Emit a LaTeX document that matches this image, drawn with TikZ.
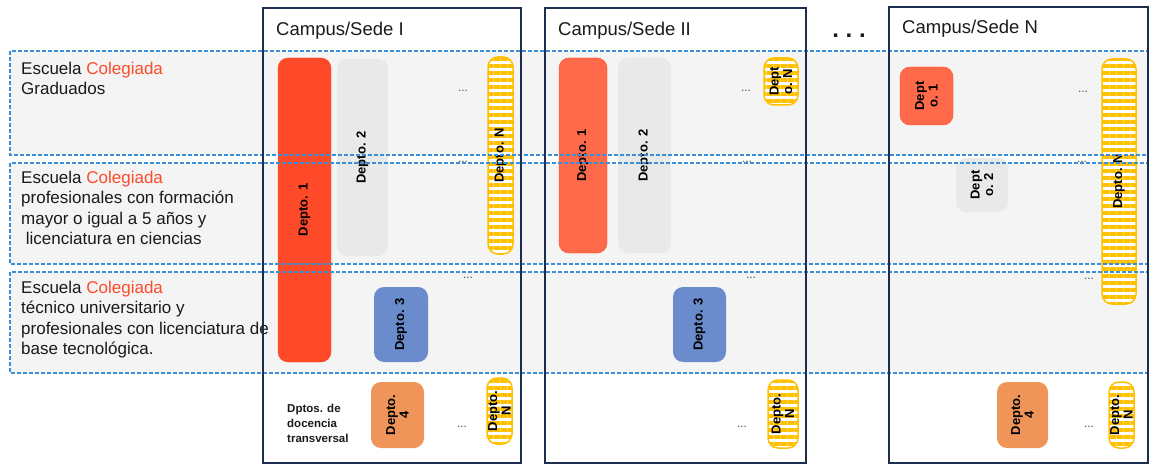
\documentclass[tikz,border=0pt]{standalone}
\usepackage{fontspec}
\setmainfont{Liberation Sans}
\usetikzlibrary{patterns.meta}
\definecolor{marino}{HTML}{1C2D4F}
\definecolor{azulraya}{HTML}{3A8FD6}
\definecolor{fondo}{HTML}{F4F4F4}
\definecolor{rojo}{HTML}{FF4A2A}
\definecolor{rojoclaro}{HTML}{FF6A4A}
\definecolor{gris}{HTML}{E9E9E9}
\definecolor{azul}{HTML}{6A8BCC}
\definecolor{naranja}{HTML}{F0955A}
\definecolor{amarillo}{HTML}{FFC000}
\definecolor{tinta}{HTML}{1A1A1A}
\tikzset{
	franja/.style={draw=azulraya,line width=1.3pt,dash pattern=on 4pt off 2pt},
	campus/.style={draw=marino,line width=2.5pt},
	titulo/.style={anchor=base west,inner sep=0pt,text=tinta,font=\fontsize{18.5}{20}\selectfont},
	etiqueta/.style={anchor=north west,align=left,inner sep=0pt,text=tinta,font=\fontsize{17}{20.5}\selectfont},
	depto/.style={rotate=90,rounded corners=10pt,inner sep=0pt,align=center,text=black,font=\fontsize{13}{13.5}\selectfont\bfseries},
	roja/.style={depto,fill=rojo,draw=rojo!90!red},
	rojac/.style={depto,fill=rojoclaro,draw=rojo!90!red},
	grisd/.style={depto,fill=gris},
	azuld/.style={depto,fill=azul},
	naranjad/.style={depto,fill=naranja},
	rayada/.style={depto,draw=amarillo,line width=1.5pt,preaction={fill=white},pattern={Lines[angle=0,distance=7pt,line width=3.5pt]},pattern color=amarillo},
	puntos/.style={anchor=base,inner sep=0pt,text=gray!60!black,font=\fontsize{12}{12}\selectfont}
}
\begin{document}
\begin{tikzpicture}[x=1pt,y=-1pt]
	\useasboundingbox (0,0) rectangle (1150,465);
	\fill[fondo] (10,51) rectangle (1148,155);
	\fill[fondo] (10,163) rectangle (1148,264);
	\fill[fondo] (10,272) rectangle (1148,373);

	\node[etiqueta] (esc1) at (21,61.5) {Escuela \textcolor{rojo}{Colegiada}\\Graduados};
	\node[etiqueta] (esc2) at (21,170.5) {Escuela \textcolor{rojo}{Colegiada}\\profesionales con formación\\mayor o igual a 5 años y\\~licenciatura en ciencias};
	\node[etiqueta] (esc3) at (21,280.5) {Escuela \textcolor{rojo}{Colegiada}\\técnico universitario y\\profesionales con licenciatura de\\base tecnológica.};

	\node[roja,minimum width=304,minimum height=53] (d11) at (304.5,210) {Depto. 1};
	\node[grisd,minimum width=197,minimum height=51] (d12) at (362.5,157.5) {Depto. 2};
	\node[rayada,minimum width=197,minimum height=25] (d1n) at (500.5,155.5) {Depto. N};
	\node[azuld,minimum width=75,minimum height=54] (d13) at (401,324.5) {Depto. 3};
	\node[naranjad,minimum width=66,minimum height=53] (d14) at (397.5,415) {Depto.\\4};
	\node[rayada,minimum width=66,minimum height=25] (d1nb) at (499.5,411) {Depto.\\N};
	\node[anchor=north west,align=left,inner sep=0pt,text=tinta,font=\fontsize{11.5}{15}\selectfont\bfseries] (transv) at (287,404) {Dptos. de\\docencia\\transversal};

	\node[rojac,minimum width=195,minimum height=48] (d21) at (583,155.5) {Depto. 1};
	\node[grisd,minimum width=195,minimum height=53] (d22) at (644.5,155.5) {Depto. 2};
	\node[rayada,minimum width=47,minimum height=34] (d2n) at (781,81.5) {Dept\\o. N};
	\node[azuld,minimum width=75,minimum height=53] (d23) at (699.5,324.5) {Depto. 3};
	\node[rayada,minimum width=68,minimum height=30] (d2nb) at (783,414) {Depto.\\N};

	\node[rojac,minimum width=58,minimum height=53] (dn1) at (926.5,96) {Dept\\o. 1};
	\node[grisd,minimum width=54,minimum height=52] (dn2) at (982,185) {Dept\\o. 2};
	\node[rayada,minimum width=245,minimum height=34] (dnn) at (1119,181.5) {Depto. N};
	\node[naranjad,minimum width=66,minimum height=51] (dn4) at (1022.5,415) {Depto.\\4};
	\node[rayada,minimum width=66,minimum height=25] (dnnb) at (1121.5,415) {Depto.\\N};

	\node[puntos] (p11) at (463,92) {...};
	\node[puntos] (p12) at (463,163) {...};
	\node[puntos] (p13) at (468,278) {...};
	\node[puntos] (p14) at (462,427) {...};
	\node[puntos] (p21) at (746,92) {...};
	\node[puntos] (p22) at (747,163) {...};
	\node[puntos] (p23) at (751,278) {...};
	\node[puntos] (p24) at (742,427) {...};
	\node[puntos] (pn1) at (1083,93) {...};
	\node[puntos] (pn2) at (1082,163) {...};
	\node[puntos] (pn3) at (1089,279) {...};
	\node[puntos] (pn4) at (1089,427) {...};

	\draw[franja] (10,51) rectangle (1148,155);
	\draw[franja] (10,163) rectangle (1148,264);
	\draw[franja] (10,272) rectangle (1148,373);

	\draw[campus] (263,8) rectangle (521,463);
	\draw[campus] (545,8) rectangle (806,463);
	\draw[campus] (889,7) rectangle (1148,463);
	\node[titulo] (c1) at (276,36) {Campus/Sede I};
	\node[titulo] (c2) at (558,36) {Campus/Sede II};
	\node[titulo] (cn) at (902,34) {Campus/Sede N};
	\node[anchor=base,inner sep=0pt,text=tinta,font=\fontsize{24}{24}\selectfont\bfseries] (mas) at (849,38) {.~.~.};
\end{tikzpicture}
\end{document}
